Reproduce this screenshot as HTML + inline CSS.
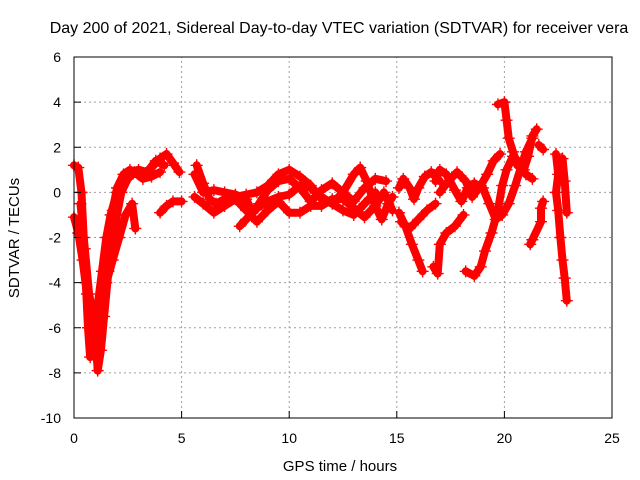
<!DOCTYPE html>
<html><head><meta charset="utf-8"><style>
html,body{margin:0;padding:0;background:#fff;}
svg{display:block;font-family:"Liberation Sans",sans-serif;}
</style></head><body>
<svg id="chart" width="640" height="480" viewBox="0 0 640 480" xmlns="http://www.w3.org/2000/svg">
<text x="339" y="33" font-size="16" text-anchor="middle">Day 200 of 2021, Sidereal Day-to-day VTEC variation (SDTVAR) for receiver vera</text>
<text x="340" y="471" font-size="15" text-anchor="middle">GPS time / hours</text>
<text transform="translate(19,238) rotate(-90)" font-size="15" text-anchor="middle">SDTVAR / TECUs</text>
<g id="grid"></g>
<g id="marks"></g>
<rect x="74" y="57" width="538" height="361" fill="none" stroke="#000" stroke-width="1"/>
<g id="ticks"></g>
</svg>
<script>
const xTicks=[0,5,10,15,20,25];
const yTicks=[-10,-8,-6,-4,-2,0,2,4,6];
const trackA_t=[0,0.2,0.35,0.45,0.55,0.65,0.75,0.9,1.05,1.2,1.4,1.6,1.8,2.0,2.3,2.6,3.0,3.5,4.0,4.3,4.6,4.9];
const trackA_v=[1.2,1.1,0,-2,-4,-6,-7.3,-7.2,-6.5,-5,-3.5,-2,-0.8,0.2,0.8,1.0,0.8,1.0,1.5,1.7,1.3,0.9];
const trackB_t=[0,0.2,0.4,0.6,0.8,1.0,1.1,1.25,1.4,1.6,1.8,2.0,2.2,2.5,2.8,3.2,3.6,4.0];
const trackB_v=[-1.1,-1.8,-3,-4.5,-5.5,-6.5,-7.9,-7,-5.5,-3.5,-2,-1,0,0.6,0.9,0.6,0.7,0.9];
const trackC_t=[0.3,0.5,0.7,0.9,1.1,1.3,1.5,1.7,2.0,2.3,2.6,3.0,3.4,3.8,4.2];
const trackC_v=[-0.5,-2.5,-4.5,-5.5,-5,-3.5,-2,-1,0,0.5,0.9,1.0,0.9,1.4,1.2];
const trackD_t=[1.5,1.8,2.1,2.4,2.7,2.85];
const trackD_v=[-4,-3,-2,-1,-0.5,-1.6];
const trackS_t=[4.0,4.3,4.6,5.0];
const trackS_v=[-0.9,-0.6,-0.4,-0.4];
const trackE_t=[5.7,6.0,6.3,6.6,7.0,7.5,8.0,8.5,9.0,9.5,10.0,10.5,11.0,11.5,12.0,12.5,13.0,13.3,13.6,14.0,14.3,14.6,14.8];
const trackE_v=[1.2,0.4,-0.3,-0.5,-0.3,-0.2,-0.1,0,0.3,0.8,1.0,0.7,0.3,-0.3,-0.5,0,0.8,1.1,0.5,-0.6,-1.2,-0.5,-0.2];
const trackF_t=[5.6,6.0,6.5,7.0,7.5,8.0,8.5,9.0,9.5,10.0,10.5,11.0,11.5,12.0,12.5,13.0,13.5,14.0,14.4,14.8];
const trackF_v=[-0.2,-0.5,-0.9,-0.6,-0.3,-0.8,-1.3,-0.8,-0.4,-0.9,-0.9,-0.6,-0.6,-0.3,-0.3,-0.7,-1.1,-0.6,0,-0.8];
const trackG_t=[5.6,6.0,6.5,7.0,7.5,8.0,8.3,8.6,9.0,9.5,10.0,10.5,11.0,11.5,12.0,12.5,13.0,13.5,14.0,14.5];
const trackG_v=[0.8,0,0.1,0,-0.1,-0.3,-0.9,-0.5,0.1,0.5,0.6,0.2,-0.4,0.1,0.4,0,-0.4,0.2,0.6,0.5];
const trackH_t=[7.7,8.0,8.5,9.0,9.5,10.0,10.5,11.0,11.5,12.0,12.5,13.0,13.5,14.0];
const trackH_v=[-1.5,-1.2,-0.7,-0.4,-0.2,-0.1,0.3,0.2,-0.2,-0.5,-0.8,-1.0,-0.5,0];
const trackI_t=[15.1,15.4,15.7,16.0,16.2];
const trackI_v=[-0.9,-1.5,-2.3,-3.0,-3.5];
const trackJ_t=[15.1,15.3,15.6,15.8,16.0,16.3,16.6,17.0];
const trackJ_v=[0.2,0.6,0.2,-0.3,0.2,0.7,0.9,0.5];
const trackK_t=[15.2,15.6,16.0,16.4,16.8];
const trackK_v=[-1.3,-1.6,-1.2,-0.8,-0.5];
const trackL_t=[16.7,16.9,17.0,17.3,17.7,18.1];
const trackL_v=[-3.3,-3.6,-2.3,-1.8,-1.5,-1.0];
const trackM_t=[16.8,17.0,17.3,17.7,18.0,18.3,18.6,19.0,19.3,19.6,19.9,20.2,20.5,20.8,21.0,21.3];
const trackM_v=[0.5,1.0,0.8,0.1,-0.4,0.2,0.4,0.2,-0.5,-1.2,-1.0,-0.5,0.3,1.2,1.8,2.4];
const trackN_t=[18.2,18.6,18.9,19.1,19.4,19.7,19.9,20.1,20.4,20.7,21.0,21.3];
const trackN_v=[-3.5,-3.7,-3.3,-2.6,-1.8,-0.8,0.3,1.0,1.6,1.3,0.8,0.6];
const trackO_t=[17.0,17.4,17.8,18.2,18.5,18.9,19.2,19.5,19.8];
const trackO_v=[0,0.5,0.9,0.5,-0.2,0.3,0.8,1.4,1.7];
const trackP_t=[19.7,20.0,20.1,20.2,20.4,20.6,20.9,21.1,21.3,21.5];
const trackP_v=[3.9,4.0,3.2,2.4,1.8,1.2,1.0,1.6,2.5,2.8];
const trackQ_t=[21.2,21.3,21.7,21.7,21.8];
const trackQ_v=[-2.3,-2.1,-1.3,-0.7,-0.4];
const trackR_t=[21.6,21.8];
const trackR_v=[2.1,1.9];
const trackT_t=[22.4,22.5,22.4,22.5,22.6,22.7,22.8,22.9];
const trackT_v=[1.7,0.8,0,-0.8,-2.0,-3.0,-3.8,-4.8];
const trackU_t=[22.7,22.8,22.9];
const trackU_v=[1.5,0.5,-0.9];
const tracks=[[trackA_t,trackA_v],[trackB_t,trackB_v],[trackC_t,trackC_v],[trackD_t,trackD_v],[trackS_t,trackS_v],[trackE_t,trackE_v],[trackF_t,trackF_v],[trackG_t,trackG_v],[trackH_t,trackH_v],[trackI_t,trackI_v],[trackJ_t,trackJ_v],[trackK_t,trackK_v],[trackL_t,trackL_v],[trackM_t,trackM_v],[trackN_t,trackN_v],[trackO_t,trackO_v],[trackP_t,trackP_v],[trackQ_t,trackQ_v],[trackR_t,trackR_v],[trackT_t,trackT_v],[trackU_t,trackU_v]];

const X0=74,X1=612,Y0=418,Y1=57,XMIN=0,XMAX=25,YMIN=-10,YMAX=6;
function xs(t){return X0+(t-XMIN)/(XMAX-XMIN)*(X1-X0);}
function ys(v){return Y0-(v-YMIN)/(YMAX-YMIN)*(Y0-Y1);}
const NS='http://www.w3.org/2000/svg';
const grid=document.getElementById('grid'),ticks=document.getElementById('ticks'),marks=document.getElementById('marks');
function mk(tag,attrs,parent){const e=document.createElementNS(NS,tag);for(const k in attrs)e.setAttribute(k,attrs[k]);parent.appendChild(e);return e;}
xTicks.forEach(t=>{
  const x=xs(t);
  if(t>XMIN&&t<XMAX){const g=mk('line',{x1:x,x2:x,y1:Y0,y2:Y1,stroke:'#a0a0a0','stroke-dasharray':'2,3'},grid);
  
  }
  const tk=mk('line',{x1:x,x2:x,y1:Y0,y2:Y0-7,stroke:'#000'},ticks);
  
  
  const l=mk('text',{x:x,y:Y0+25,'font-size':14,'text-anchor':'middle'},ticks);l.textContent=t;
  
  
});
yTicks.forEach(v=>{
  const y=ys(v);
  if(v>YMIN&&v<YMAX){const g=mk('line',{x1:X0,x2:X1,y1:y,y2:y,stroke:'#a0a0a0','stroke-dasharray':'2,3'},grid);
  
  }
  const tk=mk('line',{x1:X0,x2:X0+7,y1:y,y2:y,stroke:'#000'},ticks);
  
  
  const l=mk('text',{x:X0-13,y:y+5,'font-size':14,'text-anchor':'end'},ticks);l.textContent=v;
  
  
});
tracks.forEach(tr=>{
  const [T,V]=tr;
  const pts=T.map((t,i)=>xs(t).toFixed(1)+','+ys(V[i]).toFixed(1)).join(' ');
  const pl=mk('polyline',{points:pts,fill:'none',stroke:'#ff0000','stroke-width':8,'stroke-linejoin':'round','stroke-linecap':'round'},marks);
  
  
  T.forEach((t,i)=>{
    const x=xs(t),y=ys(V[i]);
    const p=mk('path',{d:`M${x-6},${y}h12M${x},${y-6}v12`,stroke:'#ff0000','stroke-width':1.4},marks);
    
    
  });
});
</script>
</body></html>
